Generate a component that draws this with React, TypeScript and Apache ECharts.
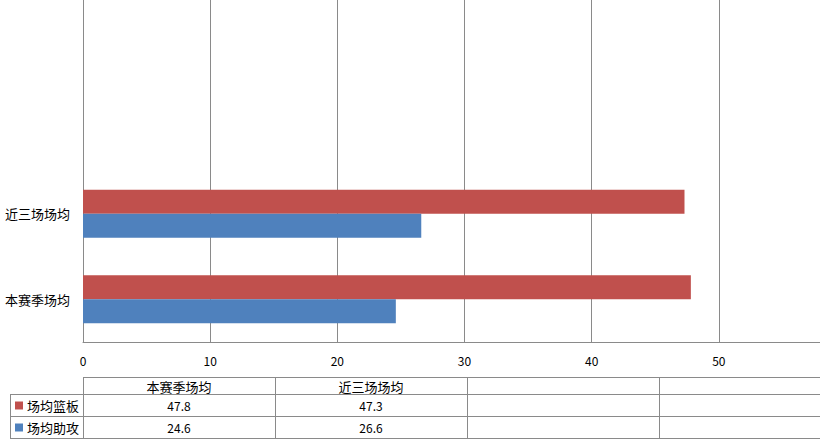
import React, { useEffect, useRef } from "react";
import * as echarts from "echarts";

const categories = ["本赛季场均", "近三场场均", "", ""];
const seriesNames = ["场均篮板", "场均助攻"];
const reboundValues = [47.8, 47.3, null, null];
const assistValues = [24.6, 26.6, null, null];
const seriesColors = ["#C0504D", "#4F81BD"];
const xMin = 0;
const xMax = 60;
const xInterval = 10;

const FONT = "'Noto Sans CJK SC', 'DejaVu Sans', sans-serif";
const LINE = "#8a8a8a";
const CANVAS_W = 880;

function buildTable() {
  const els: any[] = [];
  const x0 = 10;
  const xc = 83;
  const colW = 192;
  const yRows = [377.5, 394.5, 416.5, 438.5];
  const right = CANVAS_W;
  const line = (x1: number, y1: number, x2: number, y2: number) =>
    els.push({ type: "line", shape: { x1, y1, x2, y2 }, style: { stroke: LINE, lineWidth: 1 }, silent: true });
  line(xc, yRows[0], right, yRows[0]);
  for (let i = 1; i < yRows.length; i++) line(x0, yRows[i], right, yRows[i]);
  line(x0 + 0.5, yRows[1], x0 + 0.5, yRows[3]);
  for (let k = 0; k <= categories.length; k++) {
    const x = xc + 0.5 + colW * k;
    line(x, yRows[0], x, yRows[3]);
  }
  categories.forEach((c, k) => {
    els.push({
      type: "text",
      x: xc + colW * k + colW / 2,
      y: (yRows[0] + yRows[1]) / 2,
      style: { text: c, font: `13px ${FONT}`, fill: "#000", align: "center", verticalAlign: "middle" },
    });
  });
  const rows = [reboundValues, assistValues];
  rows.forEach((vals, r) => {
    const yc = (yRows[r + 1] + yRows[r + 2]) / 2;
    els.push({ type: "rect", shape: { x: 15, y: yc - 4, width: 8, height: 8 }, style: { fill: seriesColors[r] } });
    els.push({
      type: "text",
      x: 27,
      y: yc,
      style: { text: seriesNames[r], font: `13px ${FONT}`, fill: "#000", align: "left", verticalAlign: "middle" },
    });
    vals.forEach((v, k) => {
      if (v == null) return;
      els.push({
        type: "text",
        x: xc + colW * k + colW / 2,
        y: yc,
        style: { text: v.toFixed(1), font: `12px ${FONT}`, fill: "#000", align: "center", verticalAlign: "middle" },
      });
    });
  });
  return els;
}

export default function App() {
  const ref = useRef<HTMLDivElement>(null);
  useEffect(() => {
    if (!ref.current) return;
    const chart = echarts.init(ref.current, null, { renderer: "svg" });
    chart.setOption({
      animation: false,
      backgroundColor: "#fff",
      grid: { left: 83, right: CANVAS_W - 846, top: -2, bottom: 102, containLabel: false },
      xAxis: {
        type: "value",
        min: xMin,
        max: xMax,
        interval: xInterval,
        axisLine: { show: true, lineStyle: { color: LINE } },
        axisTick: { show: false },
        axisLabel: { color: "#000", fontSize: 12, fontFamily: FONT, margin: 12, showMaxLabel: false },
        splitLine: { show: true, lineStyle: { color: LINE, width: 1 } },
      },
      yAxis: {
        type: "category",
        data: categories,
        axisLine: { show: true, lineStyle: { color: LINE } },
        axisTick: { show: false },
        axisLabel: { color: "#000", fontSize: 13, fontFamily: FONT, margin: 13 },
        splitLine: { show: false },
      },
      series: [
        {
          name: seriesNames[0],
          type: "bar",
          data: reboundValues,
          barWidth: 24,
          barGap: "0%",
          itemStyle: { color: seriesColors[0] },
        },
        {
          name: seriesNames[1],
          type: "bar",
          data: assistValues,
          barWidth: 24,
          barGap: "0%",
          itemStyle: { color: seriesColors[1] },
        },
      ],
      graphic: buildTable(),
    });
    return () => chart.dispose();
  }, []);
  return (
    <div style={{ position: "fixed", left: 0, top: 0, width: 820, height: 444, overflow: "hidden", background: "#fff" }}>
      <div ref={ref} style={{ width: CANVAS_W, height: 444 }} />
    </div>
  );
}
